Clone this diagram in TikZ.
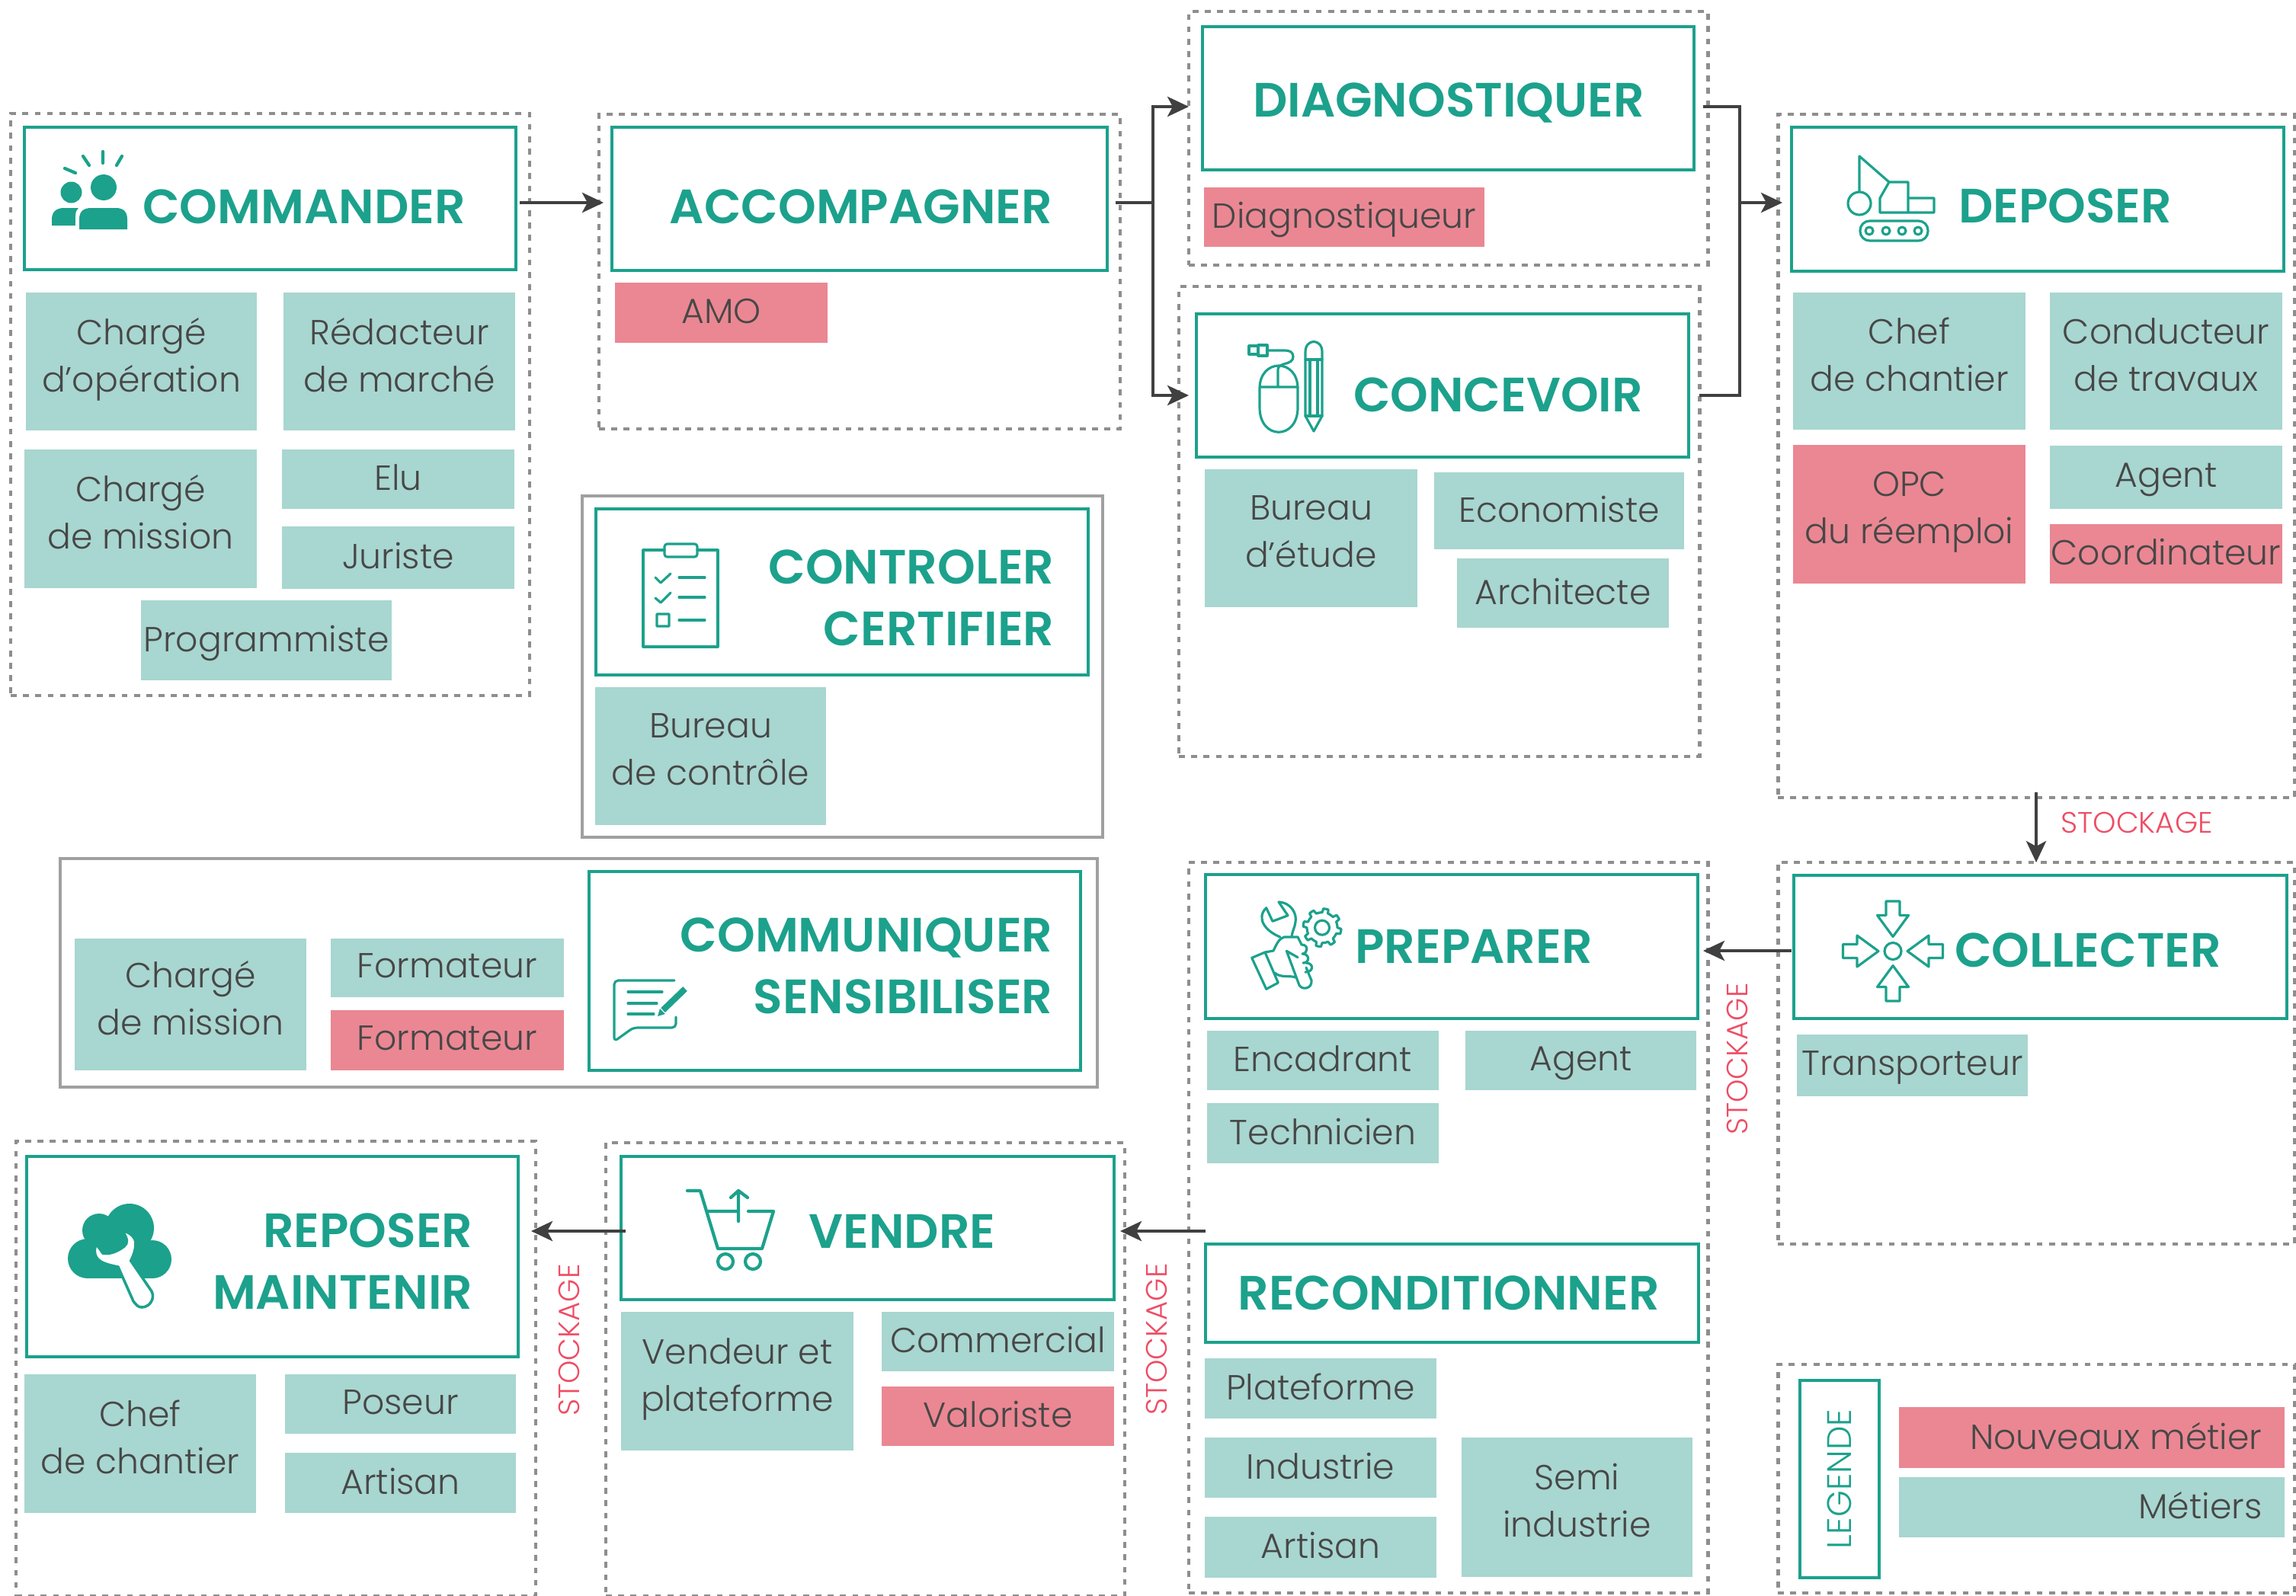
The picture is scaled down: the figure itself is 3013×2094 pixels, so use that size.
\documentclass[tikz,border=0pt]{standalone}
\usepackage{fontspec}
\setmainfont{Poppins Light}
\newfontfamily\titlefont{Poppins SemiBold}
\usetikzlibrary{arrows.meta}
\definecolor{headteal}{HTML}{1CA18C}
\definecolor{rolegreen}{HTML}{A8D6D0}
\definecolor{rolered}{HTML}{EA8793}
\definecolor{dotgray}{HTML}{8E8E8E}
\definecolor{framegray}{HTML}{A0A0A0}
\definecolor{linegray}{HTML}{404040}
\definecolor{stockred}{HTML}{EE4D65}
\tikzset{
  dotbox/.style={draw=dotgray,line width=1.4pt,dash pattern=on 2.2pt off 2.4pt},
  framebox/.style={draw=framegray,line width=1.4pt},
  headbox/.style={draw=headteal,line width=1.3pt},
  greenbox/.style={fill=rolegreen,text=black!72},
  redbox/.style={fill=rolered,text=black!72},
  greentwo/.style={greenbox,text depth=5pt},
  redtwo/.style={redbox,text depth=5pt},
  rolefont/.style={font={\fontsize{13}{17.6}\selectfont},align=center},
  titlenode/.style={text=headteal,align=right,inner sep=0pt,font={\titlefont\fontsize{18}{23}\selectfont}},
  stocknode/.style={text=stockred,inner sep=0pt,font={\fontsize{11}{13}\selectfont}},
  iconline/.style={draw=headteal,line width=.9pt,line join=round,line cap=round},
  wire/.style={draw=linegray,line width=.9pt},
  flow/.style={wire,-{Stealth[length=8pt,width=7.5pt,inset=2pt]},shorten >=-1.7pt}
}
\begin{document}
\begin{tikzpicture}[x=0.01cm,y=-0.01cm]
  \useasboundingbox (0,0) rectangle (3013,2094);
  \foreach \st/\name/\xa/\ya/\xb/\yb/\txt in {
    dotbox/commanderbox/14/149/695/913/{},
    dotbox/accompagnerbox/786/150/1470/563/{},
    dotbox/diagnostiquerbox/1560/15/2241/348/{},
    dotbox/concevoirbox/1547/376/2230/993/{},
    dotbox/deposerbox/2333/150/3011/1047/{},
    dotbox/collecterbox/2333/1132/3011/1633/{},
    dotbox/preparerbox/1560/1132/2241/2091/{},
    dotbox/vendrebox/795/1500/1476/2095/{},
    dotbox/reposerbox/21/1498/703/2095/{},
    dotbox/legendebox/2333/1791/3011/2091/{},
    framebox/controlerbox/764/651/1447/1099/{},
    framebox/communiquerbox/79/1127/1440/1427/{},
    headbox/commander/32/167/677/354/{},
    headbox/accompagner/803/167/1453/355/{},
    headbox/diagnostiquer/1578/35/2223/223/{},
    headbox/concevoir/1570/412/2216/600/{},
    headbox/deposer/2351/167/2997/356/{},
    headbox/controler/782/668/1428/886/{},
    headbox/communiquer/773/1144/1418/1405/{},
    headbox/collecter/2354/1149/3001/1337/{},
    headbox/preparer/1582/1148/2228/1337/{},
    headbox/reconditionner/1582/1633/2229/1762/{},
    headbox/vendre/815/1518/1462/1706/{},
    headbox/reposer/35/1518/680/1781/{},
    headbox/legende/2362/1812/2466/2071/{},
    greentwo/roleoperation/34/384/337/565/{Chargé\\d’opération},
    greentwo/roleredacteur/372/384/676/565/{Rédacteur\\de marché},
    greentwo/rolemission/32/590/337/772/{Chargé\\de mission},
    greenbox/roleelu/370/590/675/668/{Elu},
    greenbox/rolejuriste/370/691/675/773/{Juriste},
    greenbox/roleprogrammiste/185/788/514/893/{Programmiste},
    redbox/roleamo/807/371/1086/450/{AMO},
    redbox/rolediag/1580/246/1948/324/{Diagnostiqueur},
    greentwo/rolebureau/1581/616/1860/797/{Bureau\\d’étude},
    greenbox/roleeconomiste/1882/620/2210/721/{Economiste},
    greenbox/rolearchitecte/1912/733/2190/824/{Architecte},
    greentwo/rolechef/2353/384/2658/564/{Chef\\de chantier},
    greentwo/roleconducteur/2690/384/2995/564/{Conducteur\\de travaux},
    redtwo/roleopc/2353/584/2658/766/{OPC\\du réemploi},
    greenbox/roleagent/2690/585/2995/668/{Agent},
    redbox/rolecoord/2690/688/2995/766/{Coordinateur},
    greentwo/rolecontrole/781/902/1084/1083/{Bureau\\de contrôle},
    greentwo/rolecharge/98/1232/402/1405/{Chargé\\de mission},
    greenbox/roleformateur/434/1232/740/1309/{Formateur},
    redbox/roleformateurb/434/1326/740/1405/{Formateur},
    greenbox/roletransport/2358/1358/2661/1439/{Transporteur},
    greenbox/roleencadrant/1584/1353/1888/1431/{Encadrant},
    greenbox/roleagentb/1923/1353/2226/1431/{Agent},
    greenbox/roletechnicien/1584/1448/1888/1527/{Technicien},
    greenbox/roleplateforme/1581/1783/1885/1862/{Plateforme},
    greenbox/roleindustrie/1581/1887/1885/1966/{Industrie},
    greenbox/roleartisan/1581/1991/1885/2071/{Artisan},
    greentwo/rolesemi/1918/1887/2221/2070/{Semi\\industrie},
    greentwo/rolevendeur/815/1722/1120/1904/{Vendeur et\\plateforme},
    greenbox/rolecommercial/1157/1722/1462/1800/{Commercial},
    redbox/rolevaloriste/1157/1820/1462/1898/{Valoriste},
    greentwo/rolechefb/32/1804/336/1986/{Chef\\de chantier},
    greenbox/roleposeur/374/1804/677/1882/{Poseur},
    greenbox/roleartisanb/374/1907/677/1986/{Artisan},
    redbox/legendnew/2492/1847/2998/1927/{},
    greenbox/legendold/2492/1939/2998/2018/{}}
    \node[rolefont,text depth=1.5pt,\st,inner sep=0pt,outer sep=0pt,
      minimum width={(\xb-\xa)*0.01cm},minimum height={(\yb-\ya)*0.01cm}]
      (\name) at ({(\xa+\xb)/2},{(\ya+\yb)/2}) {\txt};
  \foreach \name/\x/\y/\txt in {
    tcommander/399/271/COMMANDER,tconcevoir/1966/518/CONCEVOIR,
    taccompagner/1130/271/ACCOMPAGNER,tdiagnostiquer/1901/135/DIAGNOSTIQUER,
    tdeposer/2710/270/DEPOSER,tpreparer/1934/1242/PREPARER,
    tcollecter/2740/1247/COLLECTER,treconditionner/1901/1697/RECONDITIONNER,
    tvendre/1184/1616/VENDRE}
    \node[titlenode] (\name) at (\x,\y) {\txt};
  \foreach \name/\x/\y/\txt in {
    tcontroler/1384/785/{CONTROLER\\CERTIFIER},
    tcommuniquer/1382/1268/{COMMUNIQUER\\SENSIBILISER},
    treposer/621/1656/{REPOSER\\MAINTENIR}}
    \node[titlenode,anchor=east] (\name) at (\x,\y) {\txt};
  \node[stocknode] (stockdown) at (2804,1080) {STOCKAGE};
  \node[stocknode,rotate=90] (stockprep) at (2280,1390) {STOCKAGE};
  \node[stocknode,rotate=90] (stockvend) at (1518,1758) {STOCKAGE};
  \node[stocknode,rotate=90] (stockrepo) at (747,1759) {STOCKAGE};
  \node[rotate=90,inner sep=0pt,text=headteal,font={\fontsize{12.7}{15}\selectfont}] (tlegende) at (legende) {LEGENDE};
  \node[rolefont,inner sep=0pt,anchor=east,text=black!72] (tnew) at (2969,1885) {Nouveaux métier};
  \node[rolefont,inner sep=0pt,anchor=east,text=black!72] (told) at (2969,1976) {Métiers};
  \coordinate (ya) at (0,266);
  \coordinate (yb) at (0,140);
  \coordinate (yc) at (0,519);
  \coordinate (yp) at (0,1248);
  \coordinate (yv) at (0,1616);
  \coordinate (splitl) at (1513,266);
  \coordinate (splitr) at (2283,266);
  \draw[flow,shorten <=1.5pt] (commander.east|-ya) -- (accompagnerbox.west|-ya);
  \draw[wire,shorten <=-1.7pt] (accompagnerbox.east|-ya) -- (splitl);
  \draw[flow,shorten >=0pt] (splitl) |- (diagnostiquerbox.west|-yb);
  \draw[flow,shorten >=-3.7pt] (splitl) |- (concevoirbox.west|-yc);
  \draw[wire,shorten <=-1.7pt] (diagnostiquerbox.east|-yb) -| (splitr);
  \draw[wire] (concevoirbox.east|-yc) -| (splitr);
  \draw[flow] (splitr) -- (deposerbox.west|-ya);
  \draw[flow,shorten >=0pt,shorten <=-2pt] (deposerbox.south) -- (collecterbox.north);
  \draw[flow,shorten <=1pt] (collecter.west|-yp) -- (preparerbox.east|-yp);
  \draw[flow] (preparer.west|-yv) -- (vendrebox.east|-yv);
  \draw[flow,shorten <=-1.7pt] (vendre.west|-yv) -- (reposerbox.east|-yv);
  % commander
  \fill[headteal] (136,246) circle[radius=17] (93.5,252.5) circle[radius=14];
  \fill[headteal] (104,301) -- (104,288) .. controls (104,277) and (110,273) .. (120,273) -- (152,273) .. controls (162,273) and (167,278) .. (167,288) -- (167,301) -- cycle;
  \fill[headteal] (68,296) -- (68,288) .. controls (68,278) and (74,273) .. (84,273) -- (103,273) .. controls (98,277) and (99,285) .. (99,296) -- cycle;
  \draw[iconline,line width=1.2pt] (85,221) -- (99,227) (109,205) -- (117,217) (135,199) -- (135,214) (160,205) -- (153,217);
  % concevoir
  \draw[iconline] (1653,510) .. controls (1653,470) and (1703,470) .. (1703,510) -- (1703,535) .. controls (1703,578) and (1653,578) .. (1653,535) -- cycle;
  \draw[iconline] (1653,508) -- (1703,508) (1677,508) -- (1677,485) .. controls (1677,475) and (1697,480) .. (1697,468) .. controls (1697,462) and (1692,460) .. (1686,460) -- (1662,460);
  \draw[iconline] (1639,454) rectangle (1651,465) (1651,453) rectangle (1663,467);
  \draw[iconline] (1713,546) -- (1713,462) .. controls (1713,444) and (1735,444) .. (1735,462) -- (1735,546) -- (1724,566) -- cycle;
  \draw[iconline] (1713,472) -- (1735,472) (1713,546) -- (1735,546) (1719,472) -- (1719,546) (1729,472) -- (1729,546);
  % deposer
  \draw[iconline] (2440,252) -- (2440,205) -- (2479,239) (2440,267) circle[radius=15];
  \draw[iconline] (2467,279) -- (2467,260) -- (2479,239) -- (2504,239) -- (2504,279) -- cycle (2504,260) rectangle (2538,279);
  \draw[iconline,rounded corners=3.5pt] (2441,290) rectangle (2530,316);
  \foreach \x in {2453,2475,2496,2517}
    \draw[iconline] (\x,303) circle[radius=5];
  % controler
  \draw[iconline] (872,722) -- (844,722) -- (844,849) -- (942,849) -- (942,722) -- (915,722);
  \draw[iconline,rounded corners=1pt] (872,714) rectangle (915,731);
  \draw[iconline] (860,758) -- (867,765) -- (880,753) (860,785) -- (867,791) -- (880,778) (862,806) rectangle (878,822);
  \draw[iconline] (891,758) -- (925,758) (891,784) -- (925,784) (891,814) -- (925,814);
  % communiquer
  \draw[iconline,rounded corners=1.5pt] (885,1287) -- (806,1287) -- (806,1367) -- (831,1349) -- (887,1349) -- (887,1335);
  \draw[iconline] (824,1302) -- (869,1302) (824,1317) -- (862,1317) (824,1331) -- (858,1331);
  \draw[headteal,line width=2.3pt] (870,1326) -- (899,1298);
  \fill[headteal] (866,1324) -- (873,1331) -- (863,1334) -- cycle;
  % preparer
  \draw[iconline] plot[domain=0:360,samples=97] ({1735+((sin(8*\x)>0)?25:20)*cos(\x)},{1217.7+((sin(8*\x)>0)?25:20)*sin(\x)}) (1735,1217.7) circle[radius=9.5];
  \draw[iconline] (1680,1230) .. controls (1660,1222) and (1648,1205) .. (1661.7,1191.7) -- (1670,1209.3) -- (1690,1201.7) -- (1678,1184) .. controls (1695,1185) and (1702,1200) .. (1700,1210) .. controls (1699,1218) and (1696,1222) .. (1695,1229);
  \draw[iconline] (1642.7,1257.3) -- (1660,1250) -- (1677.3,1290) -- (1661.7,1298.3) -- cycle;
  \draw[iconline] (1660,1250) -- (1671,1248) .. controls (1675,1240) and (1678,1232) .. (1685,1230) -- (1703,1230) -- (1708,1240) (1688.3,1248.3) -- (1705,1293.3) .. controls (1709,1300) and (1722,1298) .. (1721,1287) -- (1714,1270) (1688.3,1248.3) -- (1703,1256.7) (1673,1277) .. controls (1680,1284) and (1693,1280) .. (1700,1283);
  \draw[iconline] (1708,1240) .. controls (1718,1240) and (1716,1252) .. (1709,1252) (1709,1252) .. controls (1719,1252) and (1719,1264) .. (1710,1264) (1710,1264) .. controls (1725,1262) and (1725,1276) .. (1713,1276);
  % collecter
  \draw[iconline] (2484,1248.5) circle[radius=11];
  \foreach \a in {0,90,180,270}
    \draw[iconline,rotate around={\a:(2484,1248.5)}] (2484,1229.5) -- (2463.5,1201.5) -- (2475,1201.5) -- (2475,1183) -- (2493,1183) -- (2493,1201.5) -- (2504.5,1201.5) -- cycle;
  % vendre
  \draw[iconline,line width=1.2pt] (902,1563) -- (919,1563) -- (942,1639) -- (1000,1639) -- (1015,1590) -- (982,1590) (927,1590) -- (969,1590);
  \draw[iconline,line width=1.2pt] (969,1603) -- (969,1563) (959,1572) -- (969,1563) -- (981,1572) (952,1656) circle[radius=10] (988,1656) circle[radius=10];
  % reposer
  \foreach \x/\y/\r in {200/1653/25,115/1652/26,130/1615/22,170/1612/32}
    \fill[headteal] (\x,\y) circle[radius=\r];
  \fill[headteal] (115,1640) rectangle (200,1678);
  \fill[headteal] (130,1615) rectangle (175,1645);
  \filldraw[fill=white,draw=headteal,line width=1pt] (126.7,1633.3) -- (135,1645) .. controls (145,1647) and (155,1642) .. (163,1636) .. controls (168,1632) and (168,1626) .. (160,1615) .. controls (172,1618) and (178,1625) .. (178,1632) .. controls (178,1642) and (174,1650) .. (171.7,1655) -- (199,1695) .. controls (204,1705) and (196,1716) .. (186,1716) .. controls (181,1716) and (178,1712) .. (175,1708) -- (155,1663) .. controls (140,1660) and (128,1657) .. (125,1647) .. controls (124,1642) and (124,1638) .. (126.7,1633.3) -- cycle;
\end{tikzpicture}
\end{document}
